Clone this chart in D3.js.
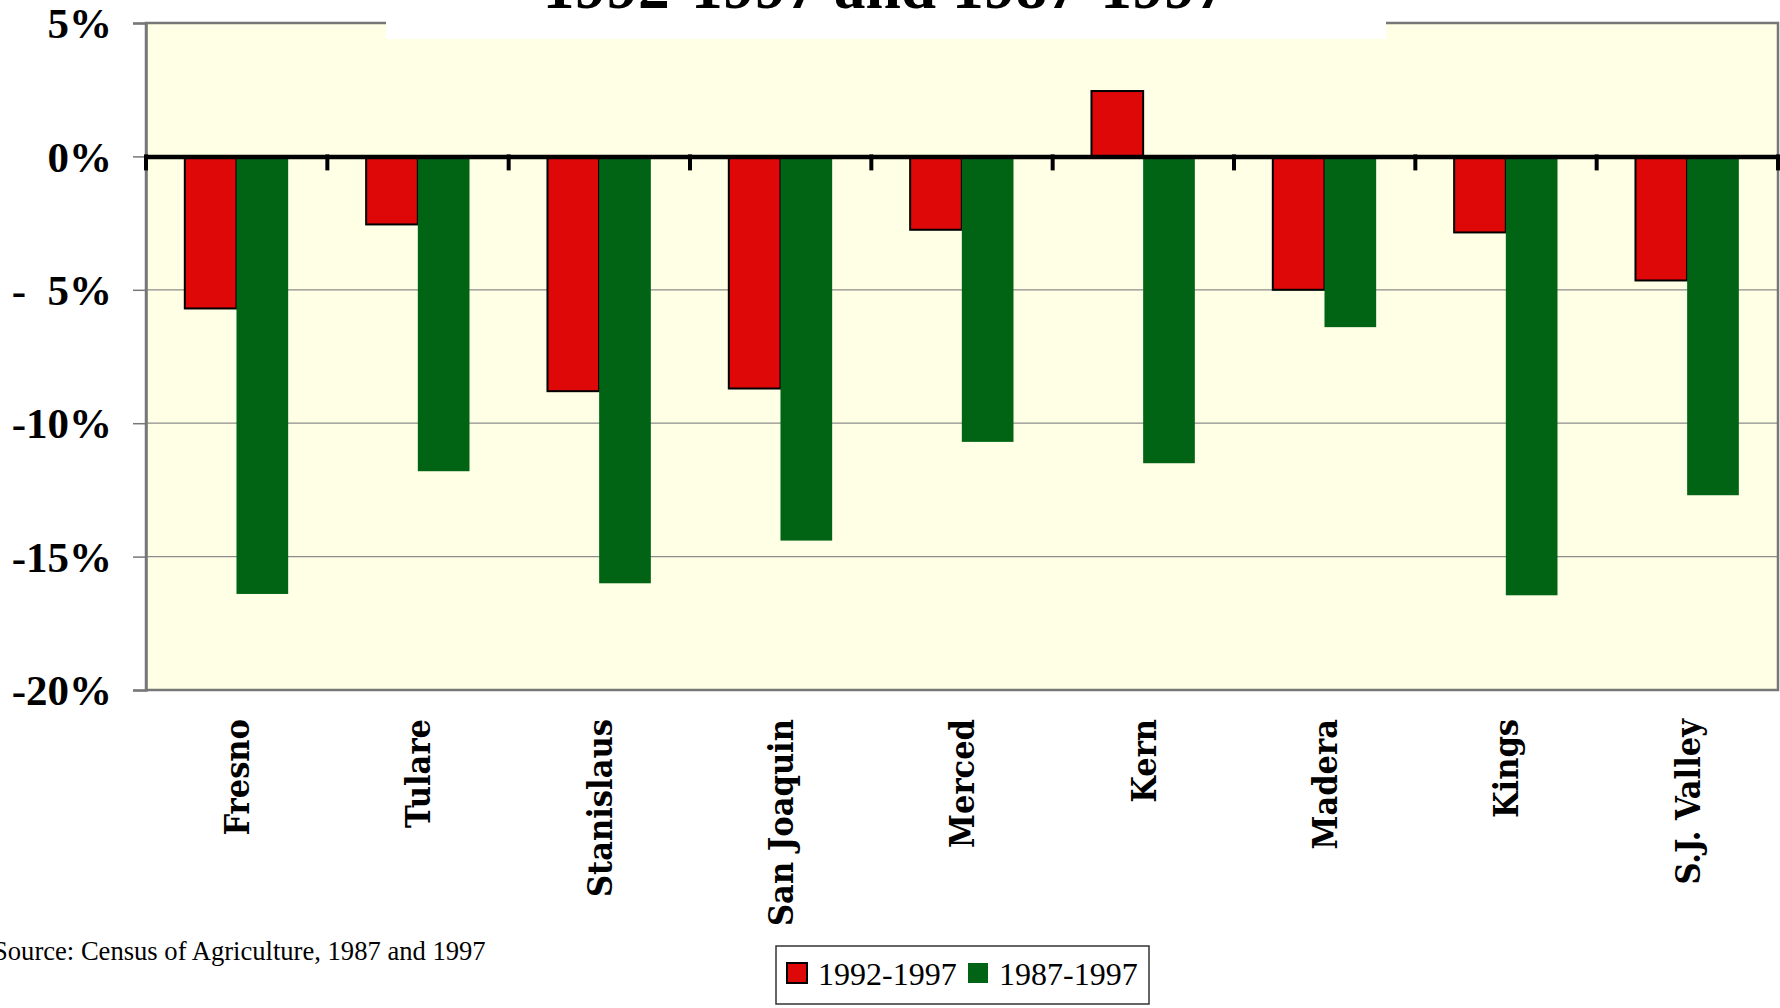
<!DOCTYPE html>
<html>
<head>
<meta charset="utf-8">
<script src="https://cdn.jsdelivr.net/npm/d3@7"></script>
<style>
  body { margin: 0; background: #fff; }
  svg { display: block; }
</style>
</head>
<body>
<svg id="chart" width="1780" height="1008"></svg>
<script>
// data (percent change)
const counties = ["Fresno", "Tulare", "Stanislaus", "San Joaquin", "Merced", "Kern", "Madera", "Kings", "S.J. Valley"];
const seriesNames = ["1992-1997", "1987-1997"];
const change9297 = [-5.7, -2.55, -8.8, -8.7, -2.75, 2.45, -5.0, -2.85, -4.65];
const change8797 = [-16.4, -11.8, -16.0, -14.4, -10.7, -11.5, -6.4, -16.45, -12.7];
const yTicks = [5, 0, -5, -10, -15, -20];
const yTickLabels = ["5%", "0%", "-  5%", "-10%", "-15%", "-20%"];
const titleLine = "1992-1997 and 1987-1997";
const sourceNote = "Source: Census of Agriculture, 1987 and 1997";

const colors = { "1992-1997": "#de0808", "1987-1997": "#006414" };

const svg = d3.select("#chart");
const plot = { left: 146, right: 1778, top: 23, bottom: 690 };

const x0 = d3.scaleBand().domain(counties).range([plot.left, plot.right]);
const bw = x0.bandwidth();
const x1 = d3.scaleBand().domain(seriesNames).range([bw * 0.214, bw * 0.784]);
const y = d3.scaleLinear().domain([-20, 5]).range([plot.bottom, plot.top]);

const rows = counties.map((c, i) => ({ county: c, values: [
  { key: seriesNames[0], v: change9297[i] },
  { key: seriesNames[1], v: change8797[i] }
]}));

// plot background
svg.append("rect")
  .attr("x", plot.left).attr("y", plot.top)
  .attr("width", plot.right - plot.left).attr("height", plot.bottom - plot.top)
  .attr("fill", "#ffffe6");

// gridlines
svg.append("g").selectAll("line")
  .data([-5, -10, -15])
  .join("line")
  .attr("x1", plot.left).attr("x2", plot.right)
  .attr("y1", d => y(d)).attr("y2", d => y(d))
  .attr("stroke", "#8c8c8c").attr("stroke-width", 1.2);

// border
svg.append("rect")
  .attr("x", plot.left).attr("y", plot.top)
  .attr("width", plot.right - plot.left).attr("height", plot.bottom - plot.top)
  .attr("fill", "none").attr("stroke", "#777").attr("stroke-width", 2.5);

// y axis
const yAxis = d3.axisLeft(y).tickValues(yTicks).tickSize(13)
  .tickFormat((d, i) => yTickLabels[i]);
const yg = svg.append("g").attr("transform", `translate(${plot.left},0)`).call(yAxis);
yg.select(".domain").attr("stroke", "#777").attr("stroke-width", 2.5);
yg.selectAll(".tick line").attr("stroke", "#777").attr("stroke-width", 1.5);
yg.selectAll(".tick text")
  .attr("x", -34).attr("dy", "0.34em")
  .style("white-space", "pre")
  .attr("font-family", "'Liberation Serif', 'Times New Roman', serif")
  .attr("font-weight", "bold").attr("font-size", 43).attr("fill", "#000");

// bars
const groups = svg.append("g").selectAll("g")
  .data(rows)
  .join("g")
  .attr("transform", d => `translate(${x0(d.county)},0)`);

groups.selectAll("rect")
  .data(d => d.values)
  .join("rect")
  .attr("x", d => x1(d.key))
  .attr("width", x1.bandwidth())
  .attr("y", d => y(Math.max(0, d.v)))
  .attr("height", d => Math.abs(y(d.v) - y(0)))
  .attr("fill", d => colors[d.key])
  .attr("stroke", d => d.key === seriesNames[0] ? "#000" : "none")
  .attr("stroke-width", 2);

// zero line with category ticks
const xAxis = d3.axisBottom(x0).tickSize(0).tickFormat("");
const xg = svg.append("g").attr("transform", `translate(0,${y(0)})`).call(xAxis);
xg.select(".domain").attr("stroke", "#000").attr("stroke-width", 4.5);
svg.append("g").selectAll("line")
  .data(d3.range(counties.length + 1))
  .join("line")
  .attr("x1", i => plot.left + i * bw).attr("x2", i => plot.left + i * bw)
  .attr("y1", y(0) - 2).attr("y2", y(0) + 14)
  .attr("stroke", "#000").attr("stroke-width", 4);

// category labels
svg.append("g").selectAll("text")
  .data(counties)
  .join("text")
  .attr("transform", d => `translate(${x0(d) + bw / 2},719) rotate(-90)`)
  .attr("text-anchor", "end")
  .attr("dy", "0.36em")
  .attr("font-family", "'DejaVu Serif Condensed', 'DejaVu Serif', serif")
  .style("font-stretch", "condensed")
  .attr("font-weight", "bold").attr("font-size", 34)
  .text(d => d);

// title box overlapping the top of the plot
svg.append("rect")
  .attr("x", 386).attr("y", 0).attr("width", 1000).attr("height", 39)
  .attr("fill", "#fff");
svg.append("text")
  .attr("x", 885).attr("y", 8)
  .attr("text-anchor", "middle")
  .attr("font-family", "'Liberation Serif', 'Times New Roman', serif")
  .attr("font-weight", "bold").attr("font-size", 63.5)
  .text(titleLine);

// source
svg.append("text")
  .attr("x", -7).attr("y", 960)
  .attr("font-family", "'Liberation Serif', 'Times New Roman', serif")
  .attr("font-size", 26.6)
  .text(sourceNote);

// legend
const legend = svg.append("g").attr("transform", "translate(776,946)");
legend.append("rect")
  .attr("width", 373).attr("height", 58)
  .attr("fill", "#fff").attr("stroke", "#333").attr("stroke-width", 1.5);
const legX = d3.scaleOrdinal().domain(seriesNames).range([11, 192]);
const items = legend.selectAll("g.item")
  .data(seriesNames)
  .join("g").attr("class", "item")
  .attr("transform", d => `translate(${legX(d)},17)`);
items.append("rect")
  .attr("width", 20).attr("height", 20)
  .attr("fill", d => colors[d])
  .attr("stroke", d => d === seriesNames[0] ? "#000" : "none")
  .attr("stroke-width", 2);
items.append("text")
  .attr("x", 31).attr("y", 22)
  .attr("font-family", "'Liberation Serif', 'Times New Roman', serif")
  .attr("font-size", 32)
  .text(d => d);
</script>
</body>
</html>
